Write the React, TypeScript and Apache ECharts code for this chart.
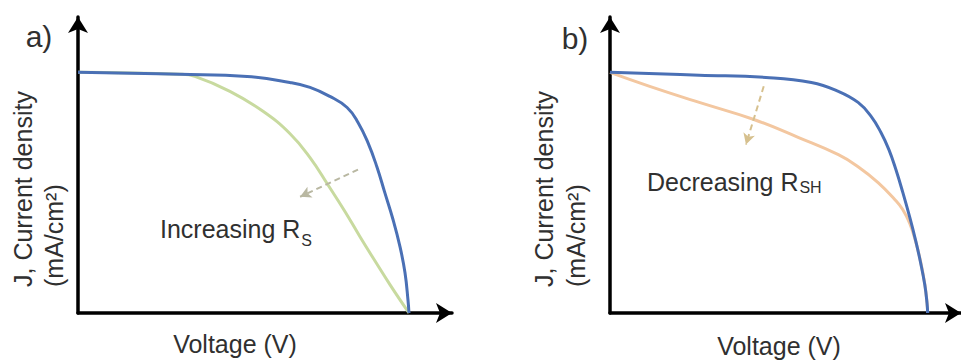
import React, { useEffect, useRef } from "react";
import * as echarts from "echarts";

// Panel a: series resistance
const voltageBlueA = [0, 0.308, 0.511, 0.64, 0.701, 0.761, 0.813, 0.846, 0.876, 0.903, 0.927, 0.952, 0.973, 0.988, 0.997, 1.0];
const currentBlueA = [1.0, 0.992, 0.983, 0.958, 0.9375, 0.9, 0.854, 0.792, 0.708, 0.608, 0.5, 0.3875, 0.275, 0.167, 0.054, 0];
const voltageGreenA = [0, 0.308, 0.353, 0.459, 0.559, 0.64, 0.701, 0.755, 0.807, 0.852, 0.897, 0.943, 1.0];
const currentGreenA = [1.0, 0.992, 0.983, 0.921, 0.838, 0.746, 0.646, 0.533, 0.421, 0.317, 0.217, 0.117, 0];

// Panel b: shunt resistance
const voltageBlueB = [0, 0.281, 0.491, 0.634, 0.719, 0.781, 0.822, 0.853, 0.878, 0.9, 0.922, 0.944, 0.9625, 0.978, 0.991, 0.998, 1.0];
const currentBlueB = [1.0, 0.988, 0.979, 0.958, 0.921, 0.875, 0.817, 0.75, 0.679, 0.596, 0.5, 0.396, 0.3, 0.208, 0.117, 0.042, 0];
const voltageOrangeB = [0, 0.125, 0.281, 0.453, 0.594, 0.719, 0.781, 0.844, 0.897, 0.922, 0.944, 0.9625, 0.978, 0.991, 0.998, 1.0];
const currentOrangeB = [1.0, 0.942, 0.875, 0.804, 0.729, 0.658, 0.608, 0.542, 0.471, 0.429, 0.371, 0.296, 0.2125, 0.121, 0.042, 0];

// Annotation arrows (data coordinates)
const arrowAStart = [0.846, 0.596];
const arrowAEnd = [0.671, 0.483];
const arrowBStart = [0.484, 0.942];
const arrowBEnd = [0.428, 0.7];

const panelLabels = ["a)", "b)"];
const xAxisTitle = "Voltage (V)";
const yAxisTitleLines = ["J, Current density", "(mA/cm²)"];
const annotationMain = ["Increasing R", "Decreasing R"];
const annotationSub = ["S", "SH"];

const axisMaxA = [1.13, 1.23];
const axisMaxB = [1.105, 1.23];

const zip = (xs: number[], ys: number[]) => xs.map((x, i) => [x, ys[i]]);

const FONT = "'Liberation Sans', Arial, sans-serif";
const TEXT_COLOR = "#303030";

export default function App() {
  const ref = useRef<HTMLDivElement>(null);

  useEffect(() => {
    document.body.style.margin = "0";
    if (!ref.current) return;
    const chart = echarts.init(ref.current, null, { renderer: "svg" });

    const measure = (text: string, size: number) => {
      const ctx = document.createElement("canvas").getContext("2d");
      if (!ctx) return text.length * size * 0.5;
      ctx.font = `${size}px ${FONT}`;
      return ctx.measureText(text).width;
    };

    const axisLine = {
      show: true,
      symbol: ["none", "arrow"],
      symbolSize: [15, 16],
      lineStyle: { color: "#000", width: 3.5 },
    };
    const hidden = {
      axisTick: { show: false },
      axisLabel: { show: false },
      splitLine: { show: false },
    };

    const lineSeries = (xi: number, data: number[][], color: string, width: number, z: number) => ({
      type: "line",
      xAxisIndex: xi,
      yAxisIndex: xi,
      data,
      showSymbol: false,
      symbol: "none",
      smooth: 0.45,
      lineStyle: { color, width },
      z,
      silent: true,
    });

    const arrowMark = (start: number[], end: number[], color: string) => ({
      silent: true,
      symbol: ["none", "arrow"],
      symbolSize: [9, 11],
      label: { show: false },
      lineStyle: { color, width: 2, type: [6, 4] },
      data: [[{ coord: start }, { coord: end }]],
    });

    const greenA: any = lineSeries(0, zip(voltageGreenA, currentGreenA), "#c8da9f", 3, 2);
    greenA.markLine = arrowMark(arrowAStart, arrowAEnd, "#b9b8a2");
    const orangeB: any = lineSeries(1, zip(voltageOrangeB, currentOrangeB), "#f3c7a0", 3, 2);
    orangeB.markLine = arrowMark(arrowBStart, arrowBEnd, "#d6c08e");

    const textStyle = (text: string, size: number) => ({
      text,
      fontSize: size,
      fontFamily: FONT,
      fill: TEXT_COLOR,
    });

    const annX = [160, 647];
    const annY = [229, 182];
    const subDrop = [11, 5];
    const annotations: any[] = [];
    for (let i = 0; i < 2; i++) {
      const w = measure(annotationMain[i], 25);
      annotations.push({
        type: "text",
        x: annX[i],
        y: annY[i],
        style: { ...textStyle(annotationMain[i], 25), align: "left", verticalAlign: "middle" },
      });
      annotations.push({
        type: "text",
        x: annX[i] + w + 1,
        y: annY[i] + subDrop[i],
        style: { ...textStyle(annotationSub[i], 16), align: "left", verticalAlign: "middle" },
      });
    }

    chart.setOption({
      animation: false,
      grid: [
        { left: 78, top: 17, width: 374, height: 296 },
        { left: 610, top: 17, width: 354, height: 296 },
      ],
      xAxis: [
        { type: "value", gridIndex: 0, min: 0, max: axisMaxA[0], axisLine, ...hidden },
        { type: "value", gridIndex: 1, min: 0, max: axisMaxB[0], axisLine, ...hidden },
      ],
      yAxis: [
        { type: "value", gridIndex: 0, min: 0, max: axisMaxA[1], axisLine, ...hidden },
        { type: "value", gridIndex: 1, min: 0, max: axisMaxB[1], axisLine, ...hidden },
      ],
      series: [
        greenA,
        lineSeries(0, zip(voltageBlueA, currentBlueA), "#4a70b5", 3, 3),
        orangeB,
        lineSeries(1, zip(voltageBlueB, currentBlueB), "#4a70b5", 3, 3),
      ],
      graphic: [
        { type: "text", x: 39, y: 36, style: { ...textStyle(panelLabels[0], 30), align: "center", verticalAlign: "middle" } },
        { type: "text", x: 575, y: 38, style: { ...textStyle(panelLabels[1], 30), align: "center", verticalAlign: "middle" } },
        { type: "text", x: 235, y: 344, style: { ...textStyle(xAxisTitle, 25), align: "center", verticalAlign: "middle" } },
        { type: "text", x: 779, y: 346, style: { ...textStyle(xAxisTitle, 25), align: "center", verticalAlign: "middle" } },
        { type: "text", x: 23, y: 287, rotation: Math.PI / 2, style: { ...textStyle(yAxisTitleLines[0], 25), align: "left", verticalAlign: "middle" } },
        { type: "text", x: 54, y: 287, rotation: Math.PI / 2, style: { ...textStyle(yAxisTitleLines[1], 25), align: "left", verticalAlign: "middle" } },
        { type: "text", x: 544, y: 287, rotation: Math.PI / 2, style: { ...textStyle(yAxisTitleLines[0], 25), align: "left", verticalAlign: "middle" } },
        { type: "text", x: 576, y: 287, rotation: Math.PI / 2, style: { ...textStyle(yAxisTitleLines[1], 25), align: "left", verticalAlign: "middle" } },
        ...annotations,
      ],
    });

    return () => chart.dispose();
  }, []);

  return <div ref={ref} style={{ width: 961, height: 363 }} />;
}
